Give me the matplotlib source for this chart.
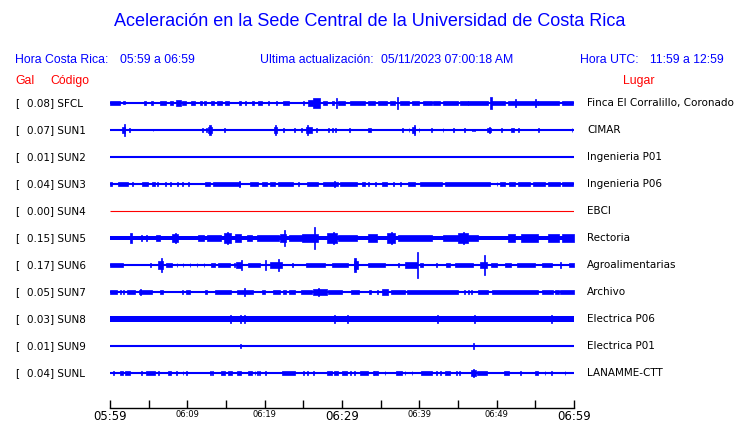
import matplotlib
matplotlib.use('Agg')
import matplotlib.pyplot as plt

# station data
codes = ['SFCL', 'SUN1', 'SUN2', 'SUN3', 'SUN4', 'SUN5', 'SUN6', 'SUN7', 'SUN8', 'SUN9', 'SUNL']
gal = [0.08, 0.07, 0.01, 0.04, 0.00, 0.15, 0.17, 0.05, 0.03, 0.01, 0.04]
places = ['Finca El Corralillo, Coronado', 'CIMAR', 'Ingenieria P01', 'Ingenieria P06', 'EBCI',
          'Rectoria', 'Agroalimentarias', 'Archivo', 'Electrica P06', 'Electrica P01', 'LANAMME-CTT']
trace_colors = ['blue', 'blue', 'blue', 'blue', 'red', 'blue', 'blue', 'blue', 'blue', 'blue', 'blue']

# steady noise half-height (px) of each trace
base_amp = [0, 0, 0, 0, 0, 2.0, 0, 0, 2.8, 0, 0]

# bursts: (start minute, end minute, half-height px)
events = {
    'SFCL': [(0.0, 1.3, 1.3), (1.7, 2.0, 0.8), (4.4, 4.6, 1), (5.3, 5.5, 1), (6.5, 7.3, 1), (7.8, 8.2, 1.2),
             (8.5, 9.2, 2), (9.3, 9.8, 1.5), (10.5, 11.0, 1.5), (11.6, 11.9, 1), (12.2, 12.4, 1), (13.1, 13.4, 1),
             (13.8, 14.5, 1.3), (14.9, 15.4, 1), (16.7, 16.9, 1), (17.4, 17.6, 1), (18.3, 18.6, 1.2),
             (19.2, 19.7, 1.3), (20.4, 20.6, 1), (21.5, 21.6, 1), (22.4, 23.2, 1.3), (24.9, 25.1, 1),
             (25.6, 26.3, 2), (26.3, 27.2, 4.5), (27.6, 28.0, 1.5), (28.7, 29.0, 1.5), (29.2, 29.35, 4),
             (29.5, 30.4, 1.3), (31.0, 33.0, 1.3), (33.4, 34.3, 1.2), (34.7, 35.8, 1.2), (36.2, 36.9, 1.3),
             (37.1, 37.25, 5.5), (37.5, 38.6, 1.2), (39.0, 39.9, 1.3), (40.5, 41.6, 1.3), (41.8, 42.7, 1.2),
             (43.1, 45.0, 1.2), (45.3, 46.3, 1.3), (46.3, 48.9, 1.5), (49.2, 49.35, 5), (49.3, 51.1, 1.3),
             (51.5, 55.4, 1.3), (52.4, 52.55, 3), (55.0, 55.15, 3), (55.4, 58.0, 1.2), (58.4, 59.9, 1.5)],
    'SUN1': [(1.5, 1.9, 2), (1.75, 1.9, 5), (2.5, 2.6, 1), (5.5, 5.6, 0.7), (11.9, 12.0, 1), (12.4, 12.5, 1),
             (12.7, 13.2, 2), (12.85, 13.0, 4), (14.8, 14.9, 1), (21.2, 21.6, 2), (21.35, 21.5, 4),
             (22.4, 22.5, 1), (23.8, 23.9, 1), (24.7, 24.8, 1), (25.3, 26.1, 2), (25.45, 25.6, 4),
             (26.7, 26.8, 1.5), (28.2, 28.3, 1), (28.7, 28.8, 1), (29.1, 29.2, 1), (30.9, 31.0, 1),
             (33.3, 33.7, 1.5), (37.8, 37.9, 1), (38.6, 38.7, 1), (39.0, 39.5, 2), (39.25, 39.4, 4),
             (39.9, 40.0, 1.5), (41.5, 41.6, 1), (43.0, 43.1, 1), (44.4, 44.5, 1), (45.8, 45.9, 1),
             (46.8, 46.9, 0.7), (47.1, 47.2, 0.7), (48.7, 49.3, 1.5), (48.95, 49.1, 2.5), (50.6, 50.7, 1),
             (51.9, 52.2, 1.5), (52.8, 52.9, 1), (55.4, 55.5, 1), (59.7, 59.8, 1)],
    'SUN2': [],
    'SUN3': [(0.0, 0.3, 1), (1.0, 2.3, 1.2), (2.8, 3.0, 1), (4.1, 4.9, 1.3), (5.4, 5.8, 1.2), (6.1, 6.2, 1),
             (7.1, 7.2, 1), (7.8, 7.9, 1), (8.7, 8.8, 1), (9.3, 9.4, 1), (10.1, 10.2, 1), (12.3, 12.9, 1),
             (13.3, 16.8, 1.2), (16.7, 16.85, 2.5), (18.1, 19.1, 1.2), (19.7, 20.3, 1), (20.7, 21.3, 1.2),
             (21.7, 23.7, 1.2), (24.3, 24.4, 1), (25.5, 26.9, 1.2), (27.5, 29.5, 1.2), (28.95, 29.1, 2.5),
             (29.7, 31.9, 1.2), (32.6, 33.0, 1), (33.4, 33.5, 1), (34.3, 34.4, 1), (35.2, 35.8, 1.2),
             (36.6, 36.7, 1), (37.5, 37.6, 1), (38.5, 39.4, 1.2), (40.1, 42.9, 1.2), (43.3, 49.1, 1.2),
             (50.0, 50.1, 1), (50.4, 51.1, 1), (51.6, 52.4, 1), (52.8, 54.3, 1), (54.7, 56.3, 1),
             (56.6, 58.2, 1), (58.5, 59.9, 1)],
    'SUN4': [],
    'SUN5': [(2.6, 2.9, 4), (4.0, 4.1, 2), (4.7, 4.8, 2), (6.0, 6.5, 2.5), (8.0, 8.8, 3), (8.4, 8.55, 4),
             (11.4, 12.1, 2), (12.5, 14.4, 2), (14.7, 15.7, 4.5), (15.1, 15.25, 5.5), (16.2, 17.0, 3.5),
             (17.7, 18.3, 2.5), (19.0, 21.8, 2), (22.0, 22.8, 3), (22.5, 22.65, 7), (23.1, 24.8, 2.5),
             (24.8, 26.9, 3), (26.4, 26.55, 10), (28.0, 29.3, 4), (28.8, 28.95, 5), (29.5, 31.9, 2.5),
             (33.4, 34.5, 3), (35.8, 36.9, 4), (36.3, 36.45, 5), (37.3, 41.6, 2), (43.1, 45.0, 2.5),
             (45.0, 46.3, 4), (45.6, 45.75, 5), (46.3, 47.6, 2.5), (51.5, 52.4, 3), (53.2, 55.4, 3),
             (56.7, 58.0, 3.5), (58.4, 60.0, 3)],
    'SUN6': [(0.0, 1.7, 1.2), (5.2, 5.3, 1), (6.2, 6.9, 3), (6.55, 6.7, 6), (7.3, 8.0, 1.2), (8.6, 8.7, 1),
             (9.4, 9.5, 1), (10.3, 10.4, 1), (11.2, 11.3, 1), (12.1, 12.2, 1), (13.1, 13.6, 1.3),
             (14.0, 15.5, 1), (16.0, 16.1, 1), (16.3, 17.0, 2.5), (16.95, 17.1, 4), (17.9, 19.4, 1.3),
             (20.1, 20.2, 4), (20.7, 22.2, 2), (21.7, 21.85, 5), (23.5, 23.6, 1), (25.4, 27.8, 1.3),
             (28.7, 30.8, 1.3), (31.6, 32.1, 3), (31.6, 31.75, 6.5), (33.4, 35.6, 1.3), (37.3, 37.4, 1),
             (38.1, 39.7, 2), (39.7, 39.85, 12), (40.1, 40.5, 1.3), (42.2, 42.3, 1), (43.5, 44.0, 1.3),
             (44.6, 47.0, 1.3), (47.8, 48.7, 2), (48.3, 48.45, 9), (49.3, 50.0, 1.2), (51.1, 51.9, 1.2),
             (52.6, 55.0, 1.2), (55.9, 57.1, 1.2), (58.2, 58.3, 2.5), (59.3, 60.0, 1.2)],
    'SUN7': [(0.0, 0.9, 1.5), (1.3, 1.4, 1), (1.7, 1.8, 1), (2.2, 3.2, 1.3), (3.7, 5.4, 1.5), (3.85, 4.0, 2.5),
             (6.5, 6.9, 1.3), (9.3, 9.4, 1), (9.8, 10.3, 1.3), (12.3, 12.5, 1), (13.6, 15.7, 1.5),
             (16.4, 18.5, 1.5), (17.35, 17.5, 3), (19.6, 20.1, 1.3), (21.1, 22.0, 1.3), (22.4, 22.8, 1.2),
             (23.2, 23.9, 1.5), (24.7, 26.1, 1.3), (26.3, 28.0, 2), (26.9, 27.05, 3.5), (28.2, 30.0, 1.3),
             (31.2, 32.2, 1.2), (33.5, 33.8, 1.2), (34.5, 34.6, 1), (35.2, 35.9, 2.5), (36.4, 38.1, 1.3),
             (38.4, 45.0, 1.3), (45.8, 45.9, 1), (46.3, 46.4, 1), (46.7, 46.8, 1), (47.6, 48.9, 1.5),
             (49.4, 55.4, 1.5), (55.8, 57.3, 1.3), (57.5, 58.0, 1.3), (58.2, 60.0, 1.5)],
    'SUN8': [(15.5, 15.6, 3), (16.8, 16.95, 3.5), (17.35, 17.45, 3), (29.0, 29.1, 3), (30.6, 30.75, 3.5),
             (42.3, 42.4, 3), (47.1, 47.2, 3), (57.0, 57.1, 3)],
    'SUN9': [(16.8, 16.9, 1.5), (47.0, 47.1, 2)],
    'SUNL': [(0.4, 0.5, 1), (1.3, 1.7, 1.3), (1.9, 2.6, 1.3), (4.0, 4.1, 1), (4.7, 5.8, 1.3), (6.2, 6.3, 1),
             (7.5, 7.9, 1.5), (8.5, 8.7, 1.2), (9.4, 9.5, 1), (9.8, 9.9, 1), (12.9, 13.0, 1), (13.2, 13.3, 1),
             (14.4, 14.9, 1.3), (15.2, 15.8, 1.3), (16.4, 16.9, 1.3), (17.9, 18.3, 1.2), (18.7, 18.8, 1),
             (19.0, 19.1, 1), (19.3, 19.4, 1), (20.1, 20.2, 1), (22.3, 23.9, 1.5), (25.0, 25.1, 1),
             (25.5, 25.6, 1), (26.3, 26.4, 1), (28.0, 28.7, 1.3), (29.0, 29.5, 1.3), (30.0, 30.7, 1.3),
             (31.0, 31.1, 1), (31.6, 31.7, 1), (32.3, 33.4, 1.3), (34.0, 34.1, 1), (34.2, 34.6, 1.3),
             (35.5, 35.6, 1), (37.0, 37.7, 1.3), (38.1, 38.2, 1), (39.0, 39.1, 1), (40.2, 41.7, 1.3),
             (42.2, 42.3, 1), (42.7, 42.8, 1), (43.3, 44.0, 1.3), (44.8, 44.9, 1), (45.1, 45.2, 1),
             (46.7, 47.3, 2), (46.95, 47.1, 3.5), (47.4, 48.8, 1.3), (50.9, 51.6, 1.3), (53.0, 53.1, 1),
             (55.0, 55.4, 1.3), (56.2, 56.3, 1), (57.0, 57.1, 1), (58.8, 58.9, 1)],
}

tick_minutes = list(range(0, 61, 5))
tick_labels = ['05:59', '', '06:09', '', '06:19', '', '06:29', '', '06:39', '', '06:49', '', '06:59']
big_labels = ['05:59', '06:29', '06:59']

W, H = 740, 423
BLUE = '#0000ff'
RED = '#ff0000'
PEN = 0.7   # extra half-height for the trace pen

fig = plt.figure(figsize=(W / 100, H / 100), dpi=100)

def px(x, y):
    return x / W, 1 - y / H

# axes whose y units are image pixels
ax_top, ax_bot = 88, 408
ax = fig.add_axes([110 / W, (H - ax_bot) / H, 464 / W, (ax_bot - ax_top) / H])
ax.set_xlim(0, 60)
ax.set_ylim(ax_bot, ax_top)
for s in ['top', 'left', 'right']:
    ax.spines[s].set_visible(False)
ax.spines['bottom'].set_linewidth(1.0)
ax.set_yticks([])
ax.set_xticks(tick_minutes)
ax.set_xticklabels(tick_labels)
ax.tick_params(axis='x', direction='in', length=5.5, width=1, pad=1.5)
for lab in ax.get_xticklabels():
    if lab.get_text() in big_labels:
        lab.set_fontsize(8.5)
    else:
        lab.set_fontsize(6)
    lab.set_family('DejaVu Sans')

row0, gap = 103, 27
for i, code in enumerate(codes):
    yc = row0 + i * gap
    c = trace_colors[i]
    lw = 0.8 if c == 'red' else 1.5
    ax.plot([0, 60], [yc, yc], color=c, lw=lw, solid_capstyle='butt')
    if base_amp[i] > 0:
        ax.broken_barh([(0, 60)], (yc - base_amp[i], 2 * base_amp[i]), facecolor=c, edgecolor='none')
    for (t0, t1, a) in events[code]:
        h = a + PEN
        ax.broken_barh([(t0, t1 - t0)], (yc - h, 2 * h), facecolor=c, edgecolor=c, linewidth=0.5)

    fig.text(*px(15, yc), '[', fontsize=7.5, family='DejaVu Sans', va='center', ha='left')
    fig.text(*px(27, yc), f'{gal[i]:.2f}] {code}', fontsize=7.5, family='DejaVu Sans', va='center', ha='left')
    fig.text(*px(587, yc), places[i], fontsize=7.5, family='DejaVu Sans', va='center', ha='left')

hf = 'Liberation Sans'
fs = 8.8
fig.text(*px(370, 22), 'Aceleración en la Sede Central de la Universidad de Costa Rica',
         fontsize=13, family=hf, color=BLUE, ha='center', va='center')
fig.text(*px(15, 60), 'Hora Costa Rica:', fontsize=fs, family=hf, color=BLUE, va='center')
fig.text(*px(120, 60), '05:59 a 06:59', fontsize=fs, family=hf, color=BLUE, va='center')
fig.text(*px(260, 60), 'Ultima actualización:', fontsize=fs, family=hf, color=BLUE, va='center')
fig.text(*px(381, 60), '05/11/2023 07:00:18 AM', fontsize=fs, family=hf, color=BLUE, va='center')
fig.text(*px(580, 60), 'Hora UTC:', fontsize=fs, family=hf, color=BLUE, va='center')
fig.text(*px(650, 60), '11:59 a 12:59', fontsize=fs, family=hf, color=BLUE, va='center')
fig.text(*px(15, 81), 'Gal', fontsize=fs, family=hf, color=RED, va='center')
fig.text(*px(50, 81), 'Código', fontsize=fs, family=hf, color=RED, va='center')
fig.text(*px(623, 81), 'Lugar', fontsize=fs, family=hf, color=RED, va='center')

fig.savefig('out.png', dpi=100)
